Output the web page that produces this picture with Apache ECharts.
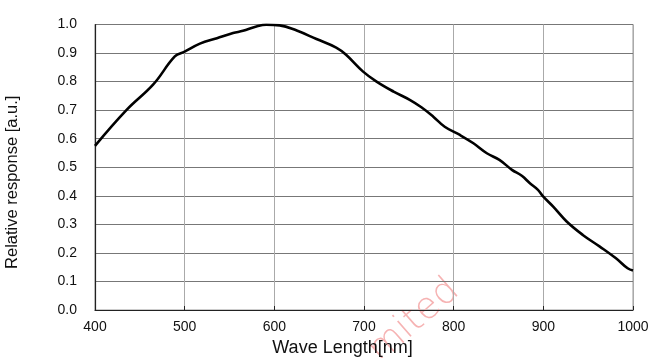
<!DOCTYPE html>
<html><head><meta charset="utf-8">
<script src="https://cdn.jsdelivr.net/npm/echarts@6/dist/echarts.min.js"></script>
<style>html,body{margin:0;padding:0;background:#fff}#c{width:655px;height:358px}</style>
</head><body><div id="c"></div>
<script>
var wavelengths = [400,435,465,489,500,517,536,554,565,580,591,606,625,647,669,680,699,714,733,751,764,777,790,807,822,837,851,865,876,885,894,900,911,926,944,963,981,994,1000];
var response = [0.575,0.70,0.79,0.888,0.905,0.933,0.952,0.970,0.978,0.993,0.999,0.997,0.979,0.949,0.919,0.894,0.835,0.800,0.765,0.736,0.710,0.678,0.642,0.613,0.584,0.549,0.526,0.491,0.470,0.444,0.421,0.397,0.362,0.310,0.263,0.222,0.181,0.146,0.138];
var xTicks = [400,500,600,700,800,900,1000];
var yTicks = [0,0.1,0.2,0.3,0.4,0.5,0.6,0.7,0.8,0.9,1.0];

var chart = echarts.init(document.getElementById('c'));
var font = 'Liberation Sans, Arial, sans-serif';
chart.setOption({
  animation: false,
  grid: {left: 95, right: 22, top: 24.5, bottom: 48, outerBoundsMode: 'none', containLabel: false,
         show: true, borderColor: '#999', borderWidth: 1},
  xAxis: {
    type: 'value', min: xTicks[0], max: xTicks[xTicks.length-1], interval: 100,
    name: 'Wave Length[nm]', nameLocation: 'middle', nameGap: 28,
    nameTextStyle: {fontFamily: font, fontSize: 18, color: '#111', padding: [0, 43, 0, 0]},
    axisLine: {show: true, lineStyle: {color: '#222', width: 1.2}},
    axisTick: {show: true, inside: true, length: 4, lineStyle: {color: '#222'}},
    axisLabel: {fontFamily: font, fontSize: 14, color: '#111', margin: 10,
      formatter: function(v){ return xTicks.indexOf(v) >= 0 ? String(v) : ''; }},
    splitLine: {show: true, lineStyle: {color: '#aaa', width: 1}}
  },
  yAxis: {
    type: 'value', min: 0, max: 1, interval: 0.1,
    name: 'Relative response [a.u.]', nameLocation: 'middle', nameGap: 74,
    nameTextStyle: {fontFamily: font, fontSize: 16.5, color: '#111', padding: [0, 30, 0, 0]},
    axisLine: {show: true, lineStyle: {color: '#222', width: 1.2}},
    axisTick: {show: false},
    axisLabel: {fontFamily: font, fontSize: 14, color: '#111', margin: 18,
      formatter: function(v){ return v.toFixed(1); }},
    splitLine: {show: true, lineStyle: {color: '#777', width: 1}}
  },
  series: [{
    type: 'line', smooth: 0.4, showSymbol: false,
    data: wavelengths.map(function(w,i){ return [w, response[i]]; }),
    lineStyle: {color: '#000', width: 2.6}
  }],
  graphic: [{
    type: 'text', x: 386, y: 370, rotation: 0.72, z: 0,
    style: {text: 'mited', x: 0, y: 0, textAlign: 'left', textVerticalAlign: 'bottom',
            fontFamily: 'DejaVu Sans', fontWeight: 200, fontSize: 37, fill: '#f6b3b3'}
  }]
});
</script></body></html>
